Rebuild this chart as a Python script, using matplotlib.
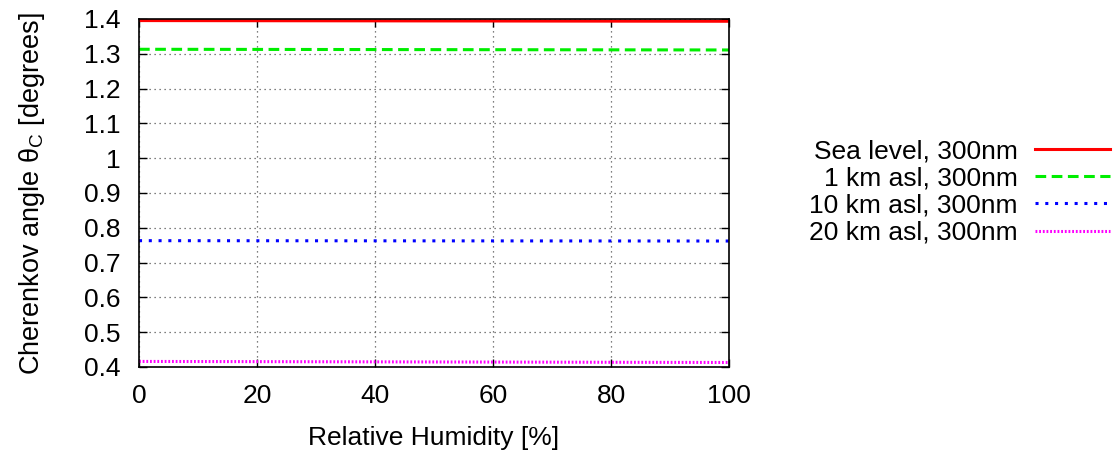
import matplotlib
matplotlib.use("Agg")
import matplotlib.pyplot as plt

humidity = [0, 20, 40, 60, 80, 100]
sea_level = [1.3955, 1.3951, 1.3947, 1.3943, 1.3939, 1.3935]
km1 = [1.3130, 1.3126, 1.3122, 1.3118, 1.3114, 1.3110]
km10 = [0.7630, 0.7628, 0.7626, 0.7624, 0.7622, 0.7620]
km20 = [0.4160, 0.4154, 0.4148, 0.4142, 0.4136, 0.4130]
labels = ["Sea level, 300nm", "1 km asl, 300nm", "10 km asl, 300nm", "20 km asl, 300nm"]
xticks = [0, 20, 40, 60, 80, 100]
yticks = [0.4, 0.5, 0.6, 0.7, 0.8, 0.9, 1.0, 1.1, 1.2, 1.3, 1.4]
ytick_labels = ["0.4", "0.5", "0.6", "0.7", "0.8", "0.9", "1", "1.1", "1.2", "1.3", "1.4"]

plt.rcParams['font.family'] = ['Liberation Sans', 'DejaVu Sans']
plt.rcParams['mathtext.fontset'] = 'custom'
plt.rcParams['mathtext.rm'] = 'Liberation Sans'
fs = 19

fig = plt.figure(figsize=(11.15, 4.54), dpi=100)
ax = fig.add_axes([139/1115, 87/454, 590/1115, 348/454])

ax.plot(humidity, sea_level, color='#ff0000', lw=2.2, linestyle='-', label=labels[0])
ax.plot(humidity, km1, color='#00ee00', lw=2.2, linestyle=(0, (3.5, 1.8)), label=labels[1])
ax.plot(humidity, km10, color='#0000ff', lw=2.2, linestyle=(0, (1.0, 2.2)), label=labels[2])
ax.plot(humidity, km20, color='#ff00ff', lw=2.2, linestyle=(0, (0.6, 0.6)), label=labels[3])

ax.set_xlim(0, 100)
ax.set_ylim(0.4, 1.4)
ax.set_xticks(xticks)
ax.set_xticklabels([str(v) for v in xticks], fontsize=fs)
ax.set_yticks(yticks)
ax.set_yticklabels(ytick_labels, fontsize=fs)
ax.tick_params(direction='in', top=True, right=True, length=6, width=1)
ax.tick_params(axis='y', pad=13)
ax.tick_params(axis='x', pad=12)
ax.grid(True, color='#555555', linestyle=(0, (1, 3)), lw=0.9)
for s in ax.spines.values():
    s.set_linewidth(1.2)

ax.set_xlabel("Relative Humidity [%]", fontsize=fs, labelpad=13)
ax.set_ylabel("Cherenkov angle θ$_\\mathregular{C}$ [degrees]", fontsize=19.5, labelpad=27)

leg = ax.legend(loc='center right', frameon=False,
                markerfirst=False, fontsize=fs, handlelength=2.85,
                handletextpad=0.65, labelspacing=0.12, borderaxespad=0, borderpad=0)
leg.set_bbox_to_anchor((1110/1115, (454 - 192)/454), transform=fig.transFigure)

fig.savefig("out.png", dpi=100)
